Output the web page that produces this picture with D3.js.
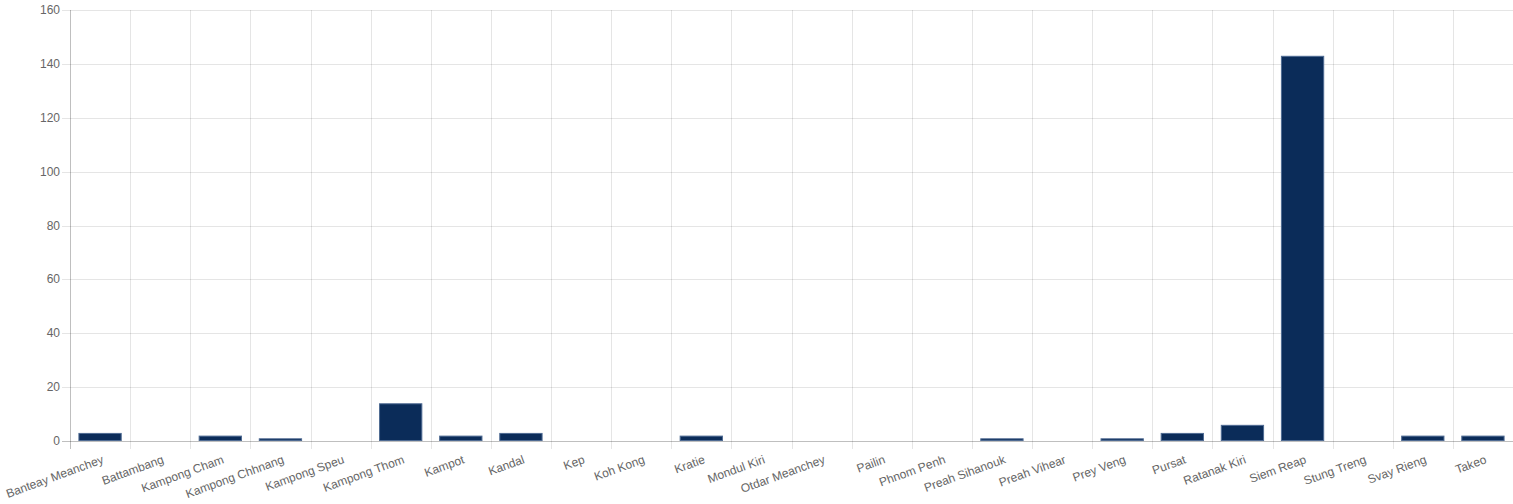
<!DOCTYPE html>
<html><head><meta charset="utf-8">
<script src="https://cdn.jsdelivr.net/npm/d3@7"></script>
<style>
html,body{margin:0;padding:0;background:#fff;}
svg{display:block;}
text{font-family:"Helvetica Neue",Helvetica,Arial,"Liberation Sans",sans-serif;}
</style></head><body>
<svg id="chart" width="1513" height="504"></svg>
<script>
const categories = ["Banteay Meanchey","Battambang","Kampong Cham","Kampong Chhnang","Kampong Speu","Kampong Thom","Kampot","Kandal","Kep","Koh Kong","Kratie","Mondul Kiri","Otdar Meanchey","Pailin","Phnom Penh","Preah Sihanouk","Preah Vihear","Prey Veng","Pursat","Ratanak Kiri","Siem Reap","Stung Treng","Svay Rieng","Takeo"];
const values = [3,0,2,1,0,14,2,3,0,0,2,0,0,0,0,1,0,1,3,6,143,0,2,2];
const yTicks = [0,20,40,60,80,100,120,140,160];

(function(){
const svg = d3.select("#chart");
const mL = 70, mR = 1513, mT = 10, mB = 441;
const x = d3.scaleBand().domain(categories).range([mL, mR]);
const y = d3.scaleLinear().domain([0,160]).range([mB, mT]);

const grid = "rgba(0,0,0,0.1)";
svg.append("g").selectAll("line").data(yTicks).join("line")
  .attr("x1", mL - 8).attr("x2", mR)
  .attr("y1", d => Math.round(y(d)) + 0.5).attr("y2", d => Math.round(y(d)) + 0.5)
  .attr("stroke", d => d === 0 ? "rgba(0,0,0,0.25)" : grid).attr("stroke-width", 1);
const bounds = categories.map(c => x(c)).concat([mR]);
svg.append("g").selectAll("line").data(bounds).join("line")
  .attr("x1", d => Math.round(d) + 0.5).attr("x2", d => Math.round(d) + 0.5)
  .attr("y1", mT).attr("y2", mB + 8)
  .attr("stroke", (d,i) => i === 0 ? "rgba(0,0,0,0.25)" : grid).attr("stroke-width", 1);

svg.append("g").selectAll("text").data(yTicks).join("text")
  .attr("x", mL - 10).attr("y", d => y(d))
  .attr("text-anchor", "end").attr("dominant-baseline", "central")
  .attr("font-size", 12).attr("fill", "#666").text(d => d);

const bw = x.bandwidth() * 0.72;
svg.append("g").selectAll("rect").data(values).join("rect")
  .attr("x", (d,i) => x(categories[i]) + (x.bandwidth() - bw) / 2 + 0.5)
  .attr("y", d => y(d) + 0.5)
  .attr("width", bw - 1)
  .attr("height", d => Math.max(0, y(0) - y(d) - 1))
  .attr("fill", "#0b2c59")
  .attr("stroke", "#4f6b93").attr("stroke-width", 1)
  .attr("display", d => d > 0 ? null : "none");

svg.append("g").selectAll("text").data(categories).join("text")
  .attr("transform", d => `translate(${x(d) + x.bandwidth()/2 + 3},${mB + 18}) rotate(-20)`)
  .attr("text-anchor", "end").attr("dominant-baseline", "central")
  .attr("font-size", 12).attr("fill", "#666").text(d => d);
})();
</script>
</body></html>
